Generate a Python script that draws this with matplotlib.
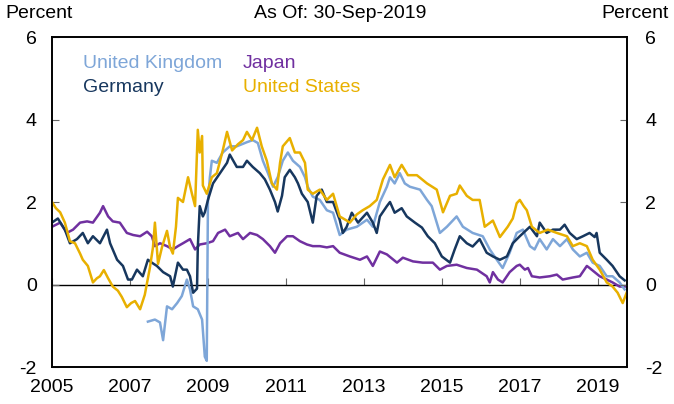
import matplotlib
matplotlib.use("Agg")
import matplotlib.pyplot as plt

plt.rcParams['font.family'] = ['Liberation Sans', 'DejaVu Sans']
plt.rcParams['axes.unicode_minus'] = False

us_t = [2005.00, 2005.10, 2005.21, 2005.33, 2005.46, 2005.59, 2005.72, 2005.79, 2005.92, 2006.05,
        2006.15, 2006.23, 2006.33, 2006.44, 2006.56, 2006.69, 2006.79, 2006.92, 2007.03, 2007.13,
        2007.26, 2007.38, 2007.51, 2007.59, 2007.64, 2007.72, 2007.82, 2007.95, 2008.03, 2008.10,
        2008.18, 2008.23, 2008.36, 2008.49, 2008.59, 2008.67, 2008.74, 2008.79, 2008.85, 2008.87,
        2008.97, 2009.10, 2009.23, 2009.38, 2009.49, 2009.62, 2009.77, 2009.90, 2010.00, 2010.13,
        2010.26, 2010.38, 2010.51, 2010.64, 2010.77, 2010.85, 2010.92, 2011.10, 2011.23, 2011.36,
        2011.49, 2011.56, 2011.69, 2011.87, 2012.05, 2012.21, 2012.38, 2012.56, 2012.64, 2012.82,
        2012.97, 2013.15, 2013.33, 2013.49, 2013.67, 2013.79, 2013.97, 2014.13, 2014.36, 2014.62,
        2014.87, 2015.03, 2015.21, 2015.38, 2015.46, 2015.64, 2015.79, 2015.97, 2016.10, 2016.31,
        2016.49, 2016.69, 2016.82, 2016.92, 2017.00, 2017.10, 2017.18, 2017.31, 2017.51, 2017.72,
        2017.95, 2018.21, 2018.36, 2018.54, 2018.72, 2018.87, 2019.05, 2019.23, 2019.38, 2019.51,
        2019.64, 2019.74]
us_v = [2.0, 1.85, 1.75, 1.5, 1.05, 1.0, 0.75, 0.6, 0.45, 0.05,
        0.15, 0.2, 0.35, 0.15, -0.05, -0.15, -0.3, -0.55, -0.45, -0.4,
        -0.6, -0.25, 0.4, 0.9, 1.5, 0.5, 0.9, 1.3, 0.9, 0.75,
        1.4, 2.1, 2.0, 2.6, 2.2, 1.9, 3.75, 3.2, 3.6, 2.4,
        2.2, 2.6, 2.7, 3.25, 3.7, 3.25, 3.4, 3.5, 3.7, 3.5,
        3.8, 3.35, 3.0, 2.45, 2.3, 2.95, 3.35, 3.55, 3.2, 3.2,
        2.95, 2.3, 2.2, 2.3, 2.05, 2.2, 1.65, 1.55, 1.5, 1.7,
        1.8, 1.9, 2.05, 2.55, 2.9, 2.6, 2.9, 2.65, 2.65, 2.45,
        2.3, 1.75, 2.15, 2.2, 2.4, 2.15, 2.05, 2.05, 1.4, 1.55,
        1.15, 1.4, 1.6, 1.97, 2.05, 1.9, 1.8, 1.4, 1.25, 1.33,
        1.25, 1.17, 0.93, 1.0, 0.93, 0.6, 0.36, 0.05, -0.05, -0.2,
        -0.45, -0.2]

de_t = [2005.00, 2005.15, 2005.33, 2005.46, 2005.64, 2005.79, 2005.92, 2006.05, 2006.23, 2006.41,
        2006.49, 2006.67, 2006.82, 2006.95, 2007.05, 2007.18, 2007.33, 2007.46, 2007.56, 2007.69,
        2007.85, 2008.03, 2008.10, 2008.23, 2008.36, 2008.46, 2008.54, 2008.62, 2008.72, 2008.74,
        2008.79, 2008.87, 2008.92, 2009.00, 2009.13, 2009.31, 2009.49, 2009.56, 2009.74, 2009.90,
        2010.00, 2010.15, 2010.33, 2010.46, 2010.59, 2010.72, 2010.79, 2010.90, 2010.97, 2011.10,
        2011.23, 2011.31, 2011.41, 2011.56, 2011.69, 2011.79, 2011.92, 2012.05, 2012.21, 2012.38,
        2012.46, 2012.56, 2012.69, 2012.85, 2013.08, 2013.23, 2013.33, 2013.41, 2013.59, 2013.67,
        2013.79, 2013.97, 2014.10, 2014.31, 2014.49, 2014.64, 2014.82, 2015.00, 2015.21, 2015.33,
        2015.46, 2015.64, 2015.79, 2015.97, 2016.15, 2016.31, 2016.49, 2016.67, 2016.82, 2017.00,
        2017.18, 2017.26, 2017.44, 2017.51, 2017.69, 2017.85, 2018.03, 2018.15, 2018.28, 2018.46,
        2018.62, 2018.79, 2018.92, 2018.97, 2019.05, 2019.23, 2019.38, 2019.56, 2019.69]
de_v = [1.5, 1.6, 1.33, 1.0, 1.1, 1.25, 1.0, 1.17, 1.0, 1.33,
        1.0, 0.6, 0.45, 0.12, 0.12, 0.36, 0.2, 0.6, 0.53, 0.45,
        0.3, 0.2, -0.05, 0.53, 0.36, 0.36, 0.2, -0.2, -0.1, 0.9,
        1.9, 1.65, 1.75, 2.05, 2.45, 2.7, 2.95, 3.15, 2.85, 2.85,
        3.0, 2.85, 2.7, 2.55, 2.3, 2.0, 1.77, 2.15, 2.6, 2.78,
        2.6, 2.45, 2.2, 2.0, 1.5, 2.15, 2.3, 2.0, 2.0, 1.57,
        1.25, 1.4, 1.74, 1.5, 1.74, 1.5, 1.25, 1.65, 1.9, 2.0,
        1.74, 1.85, 1.65, 1.5, 1.38, 1.17, 1.0, 0.68, 0.53, 0.85,
        1.17, 1.0, 0.92, 1.1, 0.77, 0.68, 0.6, 0.68, 1.0, 1.17,
        1.33, 1.4, 1.17, 1.5, 1.25, 1.33, 1.33, 1.45, 1.25, 1.1,
        1.17, 1.25, 1.15, 1.25, 0.77, 0.6, 0.45, 0.2, 0.1]

uk_t = [2007.46, 2007.64, 2007.77, 2007.85, 2007.95, 2008.08, 2008.21, 2008.33, 2008.46, 2008.54,
        2008.62, 2008.74, 2008.85, 2008.92, 2008.97, 2009.00, 2009.05, 2009.10, 2009.23, 2009.38,
        2009.56, 2009.74, 2010.00, 2010.15, 2010.28, 2010.41, 2010.54, 2010.67, 2010.79, 2010.92,
        2011.05, 2011.18, 2011.36, 2011.49, 2011.56, 2011.69, 2011.87, 2012.05, 2012.21, 2012.38,
        2012.56, 2012.82, 2013.08, 2013.23, 2013.41, 2013.59, 2013.67, 2013.79, 2013.92, 2014.05,
        2014.18, 2014.44, 2014.62, 2014.74, 2014.95, 2015.13, 2015.38, 2015.54, 2015.79, 2016.05,
        2016.23, 2016.41, 2016.56, 2016.74, 2016.92, 2017.08, 2017.26, 2017.38, 2017.51, 2017.69,
        2017.85, 2018.03, 2018.21, 2018.36, 2018.54, 2018.72, 2018.87, 2019.05, 2019.23, 2019.38,
        2019.56, 2019.69]
uk_v = [-0.9, -0.85, -0.92, -1.35, -0.53, -0.6, -0.45, -0.28, 0.12, -0.12,
        -0.53, -0.6, -0.85, -1.75, -1.85, 2.0, 2.6, 3.0, 2.95, 3.2,
        3.35, 3.35, 3.45, 3.5, 3.43, 3.0, 2.7, 2.37, 2.6, 3.0,
        3.2, 3.0, 2.85, 2.6, 2.37, 2.13, 2.05, 1.8, 1.74, 1.2,
        1.33, 1.4, 1.57, 1.4, 2.0, 2.37, 2.6, 2.45, 2.7, 2.45,
        2.37, 2.3, 2.05, 1.9, 1.25, 1.4, 1.65, 1.4, 1.25, 1.17,
        0.85, 0.6, 0.4, 0.77, 1.25, 1.33, 0.93, 0.85, 1.1, 0.85,
        1.1, 0.93, 1.1, 0.85, 0.68, 0.77, 0.53, 0.45, 0.2, 0.2,
        0.05, -0.12]

jp_t = [2005.00, 2005.21, 2005.38, 2005.54, 2005.72, 2005.90, 2006.05, 2006.23, 2006.31, 2006.44,
        2006.56, 2006.74, 2006.92, 2007.08, 2007.26, 2007.44, 2007.56, 2007.64, 2007.77, 2007.95,
        2008.10, 2008.23, 2008.36, 2008.54, 2008.67, 2008.79, 2008.97, 2009.13, 2009.26, 2009.44,
        2009.56, 2009.77, 2009.90, 2010.08, 2010.26, 2010.41, 2010.59, 2010.72, 2010.85, 2011.03,
        2011.18, 2011.36, 2011.54, 2011.69, 2011.87, 2012.05, 2012.21, 2012.38, 2012.64, 2012.90,
        2013.08, 2013.23, 2013.41, 2013.59, 2013.85, 2014.00, 2014.26, 2014.51, 2014.77, 2014.95,
        2015.13, 2015.38, 2015.64, 2015.90, 2016.15, 2016.23, 2016.31, 2016.44, 2016.56, 2016.74,
        2016.92, 2017.00, 2017.13, 2017.21, 2017.31, 2017.51, 2017.77, 2017.95, 2018.10, 2018.36,
        2018.54, 2018.72, 2018.79, 2018.92, 2019.05, 2019.23, 2019.38, 2019.56, 2019.69]
jp_v = [1.4, 1.5, 1.25, 1.33, 1.5, 1.53, 1.5, 1.74, 1.9, 1.65,
        1.53, 1.5, 1.25, 1.2, 1.17, 1.28, 1.17, 0.93, 1.0, 0.93,
        0.85, 0.93, 1.0, 1.1, 0.85, 0.97, 1.0, 1.05, 1.25, 1.33,
        1.17, 1.25, 1.1, 1.25, 1.2, 1.1, 0.93, 0.77, 1.0, 1.17,
        1.17, 1.05, 0.97, 0.93, 0.93, 0.9, 0.93, 0.77, 0.68, 0.6,
        0.68, 0.45, 0.8, 0.73, 0.53, 0.65, 0.56, 0.53, 0.53, 0.36,
        0.45, 0.48, 0.4, 0.36, 0.2, 0.05, 0.3, 0.12, 0.05, 0.3,
        0.45, 0.48, 0.36, 0.4, 0.2, 0.17, 0.2, 0.24, 0.12, 0.17,
        0.2, 0.45, 0.4, 0.3, 0.2, 0.12, 0.05, -0.05, -0.05]

series_names = ["United Kingdom", "Germany", "Japan", "United States"]
year_ticks = [2005, 2007, 2009, 2011, 2013, 2015, 2017, 2019]
y_ticks = [-2, 0, 2, 4, 6]

C_UK = "#7EA6D8"
C_DE = "#17375E"
C_JP = "#7030A0"
C_US = "#E8B000"
FS = 14
LW = 1.8

fig = plt.figure(figsize=(6.74, 4.04), dpi=100)
ax = fig.add_axes([52/674, (404-367)/404, 575/674, 330/404])

ax.axhline(0, color="black", lw=1.0, zorder=1)
ax.plot(jp_t, jp_v, color=C_JP, lw=LW, zorder=2)
ax.plot(uk_t, uk_v, color=C_UK, lw=LW, zorder=3)
ax.plot(de_t, de_v, color=C_DE, lw=LW, zorder=4)
ax.plot(us_t, us_v, color=C_US, lw=LW, zorder=5)

ax.set_xlim(2005.0, 2019.75)
ax.set_ylim(-2, 6)
ax.set_yticks(y_ticks)
ax.set_xticks(year_ticks)
ax.set_xticklabels([str(y) for y in year_ticks])
ax.tick_params(axis="x", length=0, pad=9, labelsize=FS)
ax.tick_params(axis="y", direction="in", length=5, labelsize=FS, pad=11,
               left=True, right=False, labelleft=True, labelright=False, color="#666666")

axr = ax.twinx()
axr.set_ylim(-2, 6)
axr.set_yticks(y_ticks)
axr.tick_params(axis="y", direction="in", length=5, labelsize=FS, pad=13, color="#666666")

for a in (ax, axr):
    for s in a.spines.values():
        s.set_linewidth(1.2)

sec = ax.secondary_xaxis(0.25)
sec.set_xticks(year_ticks)
sec.tick_params(axis="x", direction="in", length=5, labelbottom=False, color="#666666")
sec.set_xticklabels([])
sec.spines["bottom"].set_visible(False)

ax.text(0.054, 0.921, series_names[0], color=C_UK, fontsize=FS, transform=ax.transAxes, va="center")
ax.text(0.054, 0.848, series_names[1], color=C_DE, fontsize=FS, transform=ax.transAxes, va="center")
ax.text(0.332, 0.921, series_names[2], color=C_JP, fontsize=FS, transform=ax.transAxes, va="center")
ax.text(0.332, 0.848, series_names[3], color=C_US, fontsize=FS, transform=ax.transAxes, va="center")

fig.text(5/674, 1 - 14/404, "Percent", fontsize=FS, ha="left", va="center")
fig.text(669/674, 1 - 14/404, "Percent", fontsize=FS, ha="right", va="center")
fig.text(340/674, 1 - 14/404, "As Of: 30-Sep-2019", fontsize=FS, ha="center", va="center")

fig.savefig("out.png", dpi=100)
